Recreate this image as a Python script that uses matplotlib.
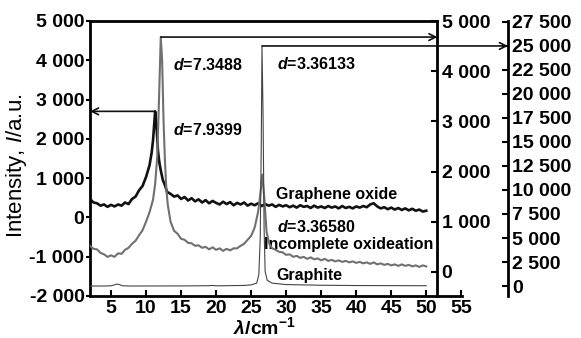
# XRD patterns: graphene oxide, incomplete oxidation, graphite
import matplotlib
matplotlib.use('Agg')
import matplotlib.pyplot as plt
from matplotlib.ticker import FuncFormatter

plt.rcParams['font.family'] = ['Liberation Sans', 'DejaVu Sans']
plt.rcParams['mathtext.fontset'] = 'custom'
plt.rcParams['mathtext.rm'] = 'Liberation Sans:bold'
plt.rcParams['mathtext.it'] = 'Liberation Sans:bold:italic'
plt.rcParams['mathtext.sf'] = 'Liberation Sans:italic'

# graphene oxide (left axis)
go_x = [2.0, 2.5, 3.0, 3.5, 4.0, 4.5, 5.0, 5.5, 6.0, 6.5, 7.0, 7.5, 8.0, 8.5, 9.0, 9.5,
        10.0, 10.5, 10.8, 11.0, 11.3, 11.5, 11.7, 11.9, 12.1, 12.4, 12.7, 13.0, 13.5, 14.0,
        14.5, 15.0, 15.5, 16.0, 16.5, 17.0, 17.5, 18.0, 18.5, 19.0, 19.5, 20.0, 20.5, 21.0,
        21.5, 22.0, 22.5, 23.0, 23.5, 24.0, 24.5, 25.0, 25.5, 26.0, 26.5, 27.0, 27.5, 28.0,
        28.5, 29.0, 29.5, 30.0, 30.5, 31.0, 31.5, 32.0, 32.5, 33.0, 33.5, 34.0, 34.5, 35.0,
        35.5, 36.0, 36.5, 37.0, 37.5, 38.0, 38.5, 39.0, 39.5, 40.0, 40.5, 41.0, 41.5, 42.0,
        42.5, 43.0, 43.5, 44.0, 44.5, 45.0, 45.5, 46.0, 46.5, 47.0, 47.5, 48.0, 48.5, 49.0,
        49.5, 50.0]
go_y = [470, 380, 360, 300, 330, 270, 320, 280, 330, 300, 380, 340, 470, 530, 690, 800,
        1030, 1330, 1650, 1970, 2700, 2300, 1700, 1400, 1200, 950, 820, 650, 600, 530,
        560, 470, 520, 430, 490, 410, 460, 380, 440, 360, 420, 370, 330, 400,
        340, 390, 310, 370, 330, 380, 300, 350, 310, 360, 290, 340, 300, 330,
        270, 320, 280, 310, 260, 300, 250, 310, 270, 290, 240, 300, 250, 280,
        240, 290, 250, 280, 230, 290, 240, 270, 230, 280, 250, 290, 260, 330,
        360, 280, 230, 260, 210, 250, 200, 240, 190, 230, 180, 220, 170, 200,
        150, 170]

# incomplete oxidation (middle axis)
io_x = [2.0, 2.5, 3.0, 3.5, 4.0, 4.5, 5.0, 5.5, 6.0, 6.5, 7.0, 7.5, 8.0, 8.5, 9.0, 9.5,
        10.0, 10.5, 11.0, 11.3, 11.6, 11.8, 12.1, 12.3, 12.5, 12.7, 12.9, 13.1, 13.5, 14.0,
        14.5, 15.0, 15.5, 16.0, 16.5, 17.0, 17.5, 18.0, 18.5, 19.0, 19.5, 20.0, 20.5, 21.0,
        21.5, 22.0, 22.5, 23.0, 23.5, 24.0, 24.5, 25.0, 25.5, 26.0, 26.3, 26.6, 26.9, 27.2,
        27.6, 28.0, 28.5, 29.0, 29.5, 30.0, 30.5, 31.0, 31.5, 32.0, 32.5, 33.0, 33.5, 34.0,
        34.5, 35.0, 35.5, 36.0, 36.5, 37.0, 37.5, 38.0, 38.5, 39.0, 39.5, 40.0, 40.5, 41.0,
        41.5, 42.0, 42.5, 43.0, 43.5, 44.0, 44.5, 45.0, 45.5, 46.0, 46.5, 47.0, 47.5, 48.0,
        48.5, 49.0, 49.5, 50.0]
io_y = [520, 460, 450, 380, 350, 300, 330, 300, 370, 360, 440, 480, 560, 620, 730, 830,
        1000, 1190, 1440, 1750, 2300, 3200, 4680, 4200, 3000, 2200, 1650, 1340, 1000, 820,
        760, 660, 640, 580, 570, 520, 530, 480, 500, 450, 490, 440, 470, 420,
        460, 430, 470, 470, 520, 560, 640, 720, 880, 1200, 1540, 1940, 1440, 800,
        560, 470, 440, 400, 390, 340, 350, 300, 320, 280, 300, 260, 290, 250,
        270, 230, 260, 220, 240, 210, 230, 200, 220, 190, 210, 180, 200, 170,
        190, 160, 190, 150, 170, 140, 160, 130, 150, 120, 150, 120, 140, 110,
        130, 100, 130, 110]

# graphite (right axis)
gr_x = [2.0, 4.0, 5.0, 5.5, 5.8, 6.2, 6.6, 7.5, 15.0, 19.0, 19.5, 20.0, 24.0, 25.0, 25.8,
        26.1, 26.3, 26.45, 26.55, 26.7, 26.85, 27.0, 27.3, 28.0, 30.0, 35.0, 40.0, 45.0, 50.0]
gr_y = [0, 0, 20, 120, 200, 150, 30, 0, 10, 30, 60, 20, 60, 120, 300,
        1200, 5000, 15000, 25000, 18000, 6000, 1500, 600, 300, 150, 80, 50, 40, 30]

x_ticks = [5, 10, 15, 20, 25, 30, 35, 40, 45, 50, 55]
left_ticks = [-2000, -1000, 0, 1000, 2000, 3000, 4000, 5000]
mid_ticks = [0, 1000, 2000, 3000, 4000, 5000]
right_ticks = [0, 2500, 5000, 7500, 10000, 12500, 15000, 17500, 20000, 22500, 25000, 27500]

thousands = FuncFormatter(lambda v, p: f"{int(v):,}".replace(',', ' '))
bold = dict(fontsize=14, fontweight='bold')

fig = plt.figure(figsize=(5.81, 3.38), dpi=100)
ax = fig.add_axes([90 / 581, 1 - 296 / 338, 372 / 581, 275 / 338])
ax2 = ax.twinx()
ax3 = ax.twinx()

x_box = 51.6
ax.set_xlim(2, 55.1)
ax.set_ylim(-2000, 5000)
ax2.set_ylim(-480, 5000)
ax3.set_ylim(-1040, 27600)

ax.plot(go_x, go_y, color='#111111', lw=1.9)
ax2.plot(io_x, io_y, color='#707070', lw=1.5)
ax3.plot(gr_x, gr_y, color='#444444', lw=0.8)

# spines
ax.spines['right'].set_visible(False)
ax.spines['top'].set_bounds(2, x_box)
for s in ['left', 'top', 'bottom']:
    ax2.spines[s].set_visible(False)
    ax3.spines[s].set_visible(False)
ax2.spines['right'].set_position(('data', x_box))
ax3.spines['right'].set_position(('axes', (508 - 90) / 372))
for a in (ax, ax2, ax3):
    for s in a.spines.values():
        s.set_linewidth(2)

ax.set_xticks(x_ticks)
ax.set_yticks(left_ticks)
ax2.set_yticks(mid_ticks)
ax3.set_yticks(right_ticks)
for a in (ax, ax2, ax3):
    a.yaxis.set_major_formatter(thousands)

ax.tick_params(axis='x', direction='in', length=4, width=1.5, pad=3, labelsize=14)
ax.tick_params(axis='y', direction='out', length=3, width=1.5, pad=1, labelsize=14)
ax2.tick_params(axis='y', direction='in', length=4, width=1.5, pad=3, labelsize=14)
ax3.tick_params(axis='y', direction='in', length=4, width=1.5, pad=3, labelsize=14)
for a in (ax, ax2, ax3):
    for lab in a.get_xticklabels() + a.get_yticklabels():
        lab.set_fontweight('bold')

ax.set_ylabel(r'Intensity, $\mathsf{I}$/a.u.', fontsize=16)
ax.yaxis.set_label_coords(-0.165, 0.475)
ax.text(0.47, -0.115, r'$\lambda$/cm$^{-1}$', transform=ax.transAxes, ha='center', va='center', **bold)

# arrows from peaks to their axes
arrow = dict(arrowstyle='->', color='#111111', lw=1.2, shrinkA=0, shrinkB=0, mutation_scale=12)
ax.annotate('', xy=(2, 2700), xytext=(11.3, 2700), arrowprops=arrow, annotation_clip=False)
ax2.annotate('', xy=(x_box, 4680), xytext=(12.1, 4680), arrowprops=arrow, annotation_clip=False)
ax3.annotate('', xy=((508 - 90) / 372, 25000), xycoords=('axes fraction', 'data'),
             xytext=(26.55, 25000), textcoords='data', arrowprops=arrow, annotation_clip=False)

lab = dict(fontsize=11.5, fontweight='bold', ha='left', va='center')
ax.text(13.9, 3880, r'$d$=7.3488', **lab)
ax.text(13.9, 2220, r'$d$=7.9399', **lab)
ax.text(28.7, 3900, r'$d$=3.36133', **lab)
ax.text(28.6, 580, 'Graphene oxide', **lab)
ax.text(28.7, -240, r'$d$=3.36580', **lab)
ax.text(26.9, -700, 'Incomplete oxideation', **lab)
ax.text(28.6, -1490, 'Graphite', **lab)

fig.savefig('out.png', dpi=100)
